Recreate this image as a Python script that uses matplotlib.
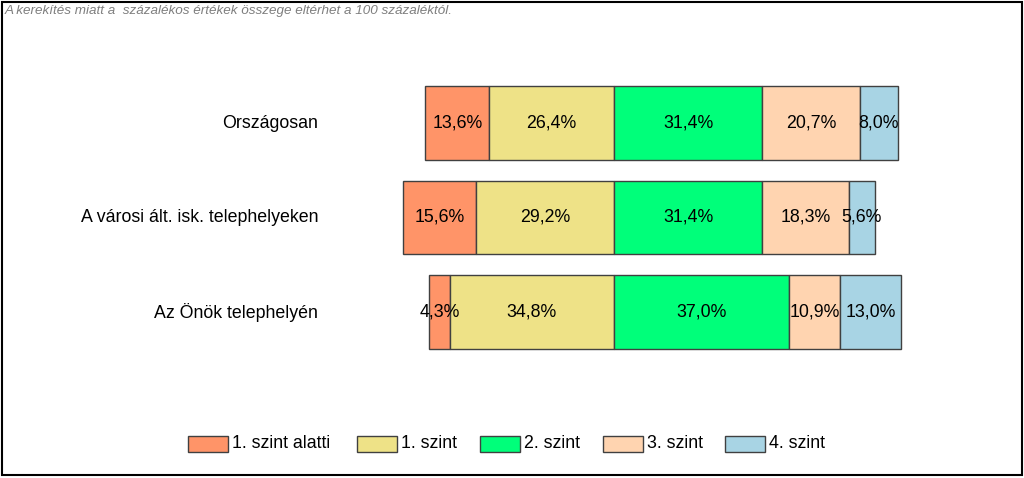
import matplotlib
matplotlib.use("Agg")
import matplotlib.pyplot as plt
from matplotlib.patches import Rectangle

categories = ["Országosan", "A városi ált. isk. telephelyeken", "Az Önök telephelyén"]
series_names = ["1. szint alatti", "1. szint", "2. szint", "3. szint", "4. szint"]
below1 = [13.6, 15.6, 4.3]
level1 = [26.4, 29.2, 34.8]
level2 = [31.4, 31.4, 37.0]
level3 = [20.7, 18.3, 10.9]
level4 = [8.0, 5.6, 13.0]
colors = ["#FF9468", "#EEE287", "#00FF7A", "#FFD4B0", "#A8D4E4"]
note = "A kerekítés miatt a  százalékos értékek összege eltérhet a 100 százaléktól."

W, H = 1024, 478
fig = plt.figure(figsize=(W / 100, H / 100), dpi=100)
plt.rcParams['font.family'] = ['Liberation Sans', 'DejaVu Sans']
ax = fig.add_axes([0, 0, 1, 1])
pxper = 4.72
cx = 614
ax.set_xlim(-cx / pxper, (W - cx) / pxper)
ax.set_ylim((H - 123) / 94.5, -123 / 94.5)
ax.axis("off")

ypos = list(range(len(categories)))
h = 0.783
edge = "#404040"
fs = 12.8

right_series = [level2, level3, level4]
for i in ypos:
    l1 = level1[i]; b1 = below1[i]
    segs = [(-(l1 + b1), b1, 0), (-l1, l1, 1)]
    start = 0
    for vals, ci in zip(right_series, [2, 3, 4]):
        segs.append((start, vals[i], ci))
        start += vals[i]
    for left, width, ci in segs:
        ax.barh(i, width, left=left, height=h, color=colors[ci], edgecolor=edge, linewidth=1)
        ax.text(left + width / 2, i, f"{width:.1f}%".replace(".", ","), ha="center", va="center",
                fontsize=fs, color="black")
    ax.text((318 - cx) / pxper, i, categories[i], ha="right", va="center", fontsize=fs)

# legend
box_x = [188, 357, 480, 603, 725]
for bx, name, c in zip(box_x, series_names, colors):
    fig.patches.append(Rectangle((bx / W, 1 - 452 / H), 40 / W, 16 / H, transform=fig.transFigure,
                                 facecolor=c, edgecolor=edge, linewidth=1))
    fig.text((bx + 44) / W, 1 - 444 / H, name, ha="left", va="center", fontsize=fs)

fig.text(5 / W, 1 - 11 / H, note, ha="left", va="center", fontsize=9.7, style="italic", color="#7f7f7f")
fig.patches.append(Rectangle((1.5 / W, 1 - 475 / H), 1020 / W, 473.5 / H, transform=fig.transFigure,
                             facecolor="none", edgecolor="black", linewidth=1.5))
fig.savefig("out.png", dpi=100)
